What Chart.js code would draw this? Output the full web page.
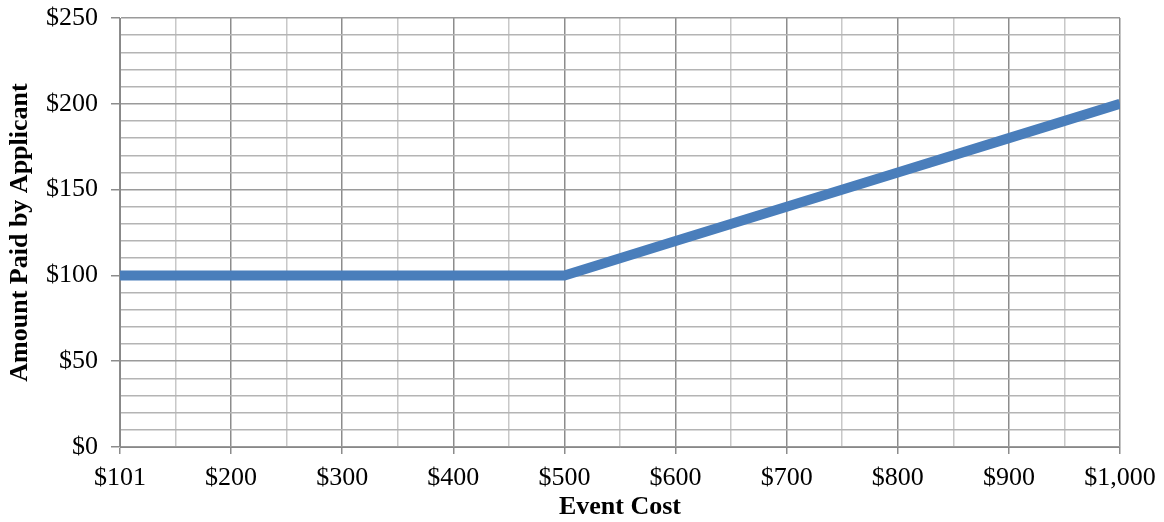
<!DOCTYPE html>
<html>
<head>
<meta charset="utf-8">
<script src="https://cdn.jsdelivr.net/npm/chart.js@4"></script>
<style>
	html, body { margin: 0; padding: 0; background: #fff; }
	#wrap { width: 1164px; height: 522px; }
</style>
</head>
<body>
<div id="wrap"><canvas id="cost-chart"></canvas></div>
<script>
// event cost categories (evenly spaced on the axis) and applicant share
const costLabels = ["$101", "$200", "$300", "$400", "$500", "$600", "$700", "$800", "$900", "$1,000"];
const amountPaid = [100, 100, 100, 100, 100, 120, 140, 160, 180, 200];
const yTickLabels = ["$0", "$50", "$100", "$150", "$200", "$250"];

const serif = "'Liberation Serif', 'Times New Roman', serif";

const points = amountPaid.map((v, i) => ({ x: i, y: v }));

new Chart(document.getElementById("cost-chart"), {
	type: "line",
	data: {
		datasets: [
			{
				data: points,
				borderColor: "#4A7EBB",
				borderWidth: 10,
				pointRadius: 0,
				tension: 0,
				clip: 0,
			},
		],
	},
	options: {
		responsive: true,
		maintainAspectRatio: false,
		animation: false,
		layout: { padding: { top: 0, right: 44, bottom: 10, left: 7 } },
		plugins: {
			legend: { display: false },
			tooltip: { enabled: false },
		},
		scales: {
			x: {
				type: "linear",
				min: 0,
				max: costLabels.length - 1,
				border: { color: "#888888", width: 1 },
				grid: {
					// darker lines at labelled costs, lighter ones halfway between
					color: (c) => (Number.isInteger(c.tick.value) ? "#8c8c8c" : "#c8c8c8"),
					tickColor: (c) => (Number.isInteger(c.tick.value) ? "#8c8c8c" : "rgba(0,0,0,0)"),
					tickLength: 7,
					lineWidth: 1.5,
				},
				ticks: {
					stepSize: 0.5,
					autoSkip: false,
					maxRotation: 0,
					padding: 8,
					color: "#000",
					font: { family: serif, size: 26, lineHeight: 1.23 },
					callback: (val) => (Number.isInteger(val) ? costLabels[val] : ""),
				},
				title: {
					display: true,
					text: "Event Cost",
					color: "#000",
					padding: { top: 0, bottom: 0 },
					font: { family: serif, size: 26, weight: "bold", lineHeight: 0.385 },
				},
			},
			y: {
				min: 0,
				max: 250,
				border: { color: "#888888", width: 1 },
				grid: {
					color: (c) => (c.tick.value % 50 === 0 ? "#9a9a9a" : "#b4b4b4"),
					tickColor: (c) => (c.tick.value % 50 === 0 ? "#8c8c8c" : "rgba(0,0,0,0)"),
					tickLength: 9,
					lineWidth: 1.5,
				},
				ticks: {
					stepSize: 10,
					autoSkip: false,
					padding: 13,
					color: "#000",
					font: { family: serif, size: 26, lineHeight: 0.385 },
					callback: (val) => (val % 50 === 0 ? yTickLabels[val / 50] : ""),
				},
				title: {
					display: true,
					text: "Amount Paid by Applicant",
					color: "#000",
					padding: { top: 0, bottom: 0 },
					font: { family: serif, size: 26, weight: "bold", lineHeight: 1 },
				},
			},
		},
	},
});
</script>
</body>
</html>
